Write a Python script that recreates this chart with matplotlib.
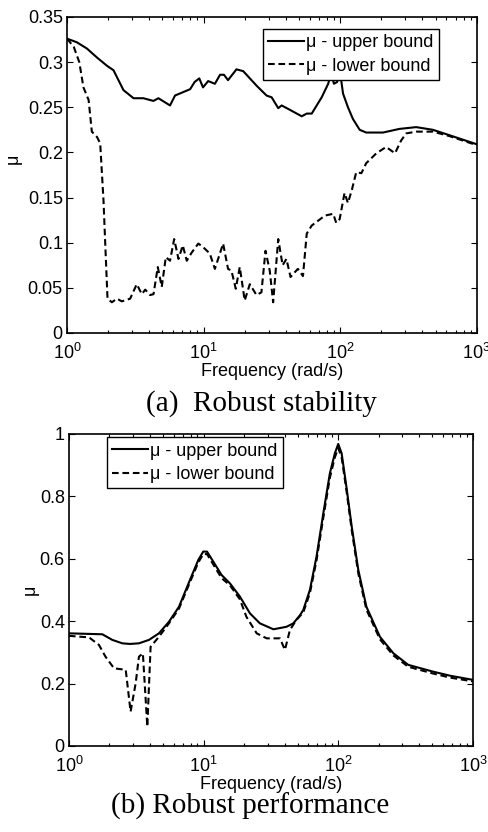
import matplotlib.pyplot as plt
import numpy as np

plt.rcParams['font.family'] = ['Liberation Sans', 'DejaVu Sans']
plt.rcParams['mathtext.fontset'] = 'custom'
plt.rcParams['mathtext.rm'] = 'Liberation Sans'
plt.rcParams['font.size'] = 13

# (a) robust stability
f_rs_up = [1, 1.18, 1.40, 1.66, 1.96, 2.19, 2.59, 3.07, 3.63, 4.29, 4.67, 5.68, 6.18,
           7.97, 8.6, 9.3, 9.9, 10.8, 12.1, 13.2, 14.1, 15.1, 17.4, 19.5, 24.4, 28.9,
           31.5, 35.2, 37.3, 43.0, 52.3, 56.9, 61.9, 73.2, 81.7, 86, 90, 95, 100, 105,
           114, 124, 139, 155, 206, 271, 360, 478, 632, 1000]
mu_rs_up = [0.326, 0.322, 0.315, 0.305, 0.296, 0.291, 0.269, 0.260, 0.260, 0.257, 0.260,
            0.252, 0.263, 0.270, 0.278, 0.282, 0.272, 0.279, 0.276, 0.286, 0.286, 0.280,
            0.292, 0.290, 0.274, 0.263, 0.261, 0.249, 0.252, 0.247, 0.240, 0.243, 0.243,
            0.261, 0.276, 0.288, 0.276, 0.278, 0.288, 0.265, 0.250, 0.237, 0.225, 0.222,
            0.222, 0.226, 0.228, 0.225, 0.219, 0.209]
f_rs_lo = [1, 1.12, 1.23, 1.32, 1.44, 1.52, 1.66, 1.75, 1.85, 1.91, 1.98, 2.13, 2.32,
           2.52, 2.90, 3.24, 3.53, 3.74, 4.06, 4.30, 4.62, 4.94, 5.29, 5.68, 6.09, 6.55,
           7.04, 7.53, 8.18, 9.15, 9.94, 11.1, 12.1, 13.9, 15.1, 16.0, 17.2, 18.4, 20.0,
           21.8, 24.4, 26.5, 28.4, 30.5, 32.3, 35.2, 37.9, 40.4, 43.3, 49.0, 53.4, 56.9,
           61.9, 77.3, 88.9, 93.5, 99.1, 107.6, 114, 122, 131, 143, 155, 184, 217, 252,
           279, 304, 360, 478, 632, 1000]
mu_rs_lo = [0.326, 0.317, 0.300, 0.272, 0.258, 0.223, 0.217, 0.210, 0.147, 0.095, 0.038,
            0.034, 0.038, 0.035, 0.038, 0.054, 0.043, 0.048, 0.042, 0.043, 0.073, 0.051,
            0.084, 0.080, 0.104, 0.082, 0.097, 0.080, 0.089, 0.099, 0.095, 0.088, 0.071,
            0.099, 0.071, 0.069, 0.049, 0.073, 0.036, 0.054, 0.042, 0.045, 0.091, 0.069,
            0.034, 0.104, 0.075, 0.082, 0.062, 0.071, 0.063, 0.110, 0.119, 0.130, 0.132,
            0.122, 0.126, 0.155, 0.144, 0.159, 0.178, 0.177, 0.188, 0.199, 0.206, 0.199,
            0.213, 0.221, 0.223, 0.223, 0.218, 0.208]

# (b) robust performance
f_rp_up = [1, 1.77, 2.10, 2.49, 2.84, 3.31, 3.93, 4.66, 5.53, 6.56, 7.92, 9.13, 9.94,
           10.6, 11.8, 13.6, 15.7, 18.6, 22.1, 26.2, 33, 41.3, 46.4, 52.2, 55, 61.6, 69,
           77.5, 86.7, 94.4, 100, 106, 115, 126, 141, 162, 204, 257, 331, 509, 680, 1000]
mu_rp_up = [0.361, 0.358, 0.340, 0.329, 0.327, 0.329, 0.340, 0.361, 0.398, 0.446, 0.532,
            0.596, 0.623, 0.623, 0.591, 0.548, 0.521, 0.479, 0.425, 0.393, 0.374, 0.382,
            0.393, 0.420, 0.436, 0.500, 0.607, 0.746, 0.874, 0.938, 0.968, 0.938, 0.831,
            0.703, 0.564, 0.446, 0.350, 0.297, 0.260, 0.238, 0.225, 0.212]
f_rp_lo = [1, 1.41, 1.67, 1.87, 2.16, 2.64, 2.87, 3.13, 3.31, 3.54, 3.82, 4.04, 4.66,
           5.53, 6.56, 7.92, 9.13, 9.94, 10.6, 11.8, 13.6, 15.7, 18.6, 20.8, 24.8, 29.4,
           36.9, 40.2, 43.8, 48.9, 55, 61.6, 69, 77.5, 86.7, 94.4, 100, 106, 115, 126,
           141, 162, 204, 257, 331, 509, 680, 1000]
mu_rp_lo = [0.353, 0.348, 0.324, 0.286, 0.249, 0.244, 0.110, 0.201, 0.286, 0.297, 0.062,
            0.318, 0.350, 0.393, 0.440, 0.525, 0.588, 0.615, 0.615, 0.582, 0.538, 0.515,
            0.470, 0.414, 0.361, 0.345, 0.345, 0.308, 0.372, 0.404, 0.428, 0.490, 0.595,
            0.732, 0.860, 0.925, 0.955, 0.925, 0.820, 0.692, 0.553, 0.437, 0.342, 0.290,
            0.254, 0.232, 0.219, 0.207]

dash = (0, (3.2, 1.8))

fig = plt.figure(figsize=(4.89, 8.32), dpi=100)


def style(ax, yt, ytl, ylim, ylab_xy):
    ax.set_xscale('log')
    ax.set_xlim(1, 1000)
    ax.set_ylim(*ylim)
    ax.set_yticks(yt)
    ax.set_yticklabels(ytl)
    ax.tick_params(which='both', direction='in', top=True, right=True, width=0.8)
    ax.tick_params(which='major', length=4, pad=3)
    ax.tick_params(which='minor', length=2)
    ax.tick_params(axis='x', pad=7)
    for s in ax.spines.values():
        s.set_linewidth(1.2)
    ax.set_xlabel('Frequency (rad/s)', labelpad=0)
    ax.set_ylabel('μ')
    ax.yaxis.set_label_coords(*ylab_xy)


ax1 = fig.add_axes([0.137, 0.5998, 0.838, 0.3798])
ax1.plot(f_rs_up, mu_rs_up, 'k-', lw=1.5, label='μ - upper bound')
ax1.plot(f_rs_lo, mu_rs_lo, 'k', ls=dash, lw=1.5, label='μ - lower bound')
style(ax1, [0, 0.05, 0.1, 0.15, 0.2, 0.25, 0.3, 0.35],
      ['0', '0.05', '0.1', '0.15', '0.2', '0.25', '0.3', '0.35'], (0, 0.35), (-0.11, 0.55))
ax1.legend(loc='upper right', bbox_to_anchor=(0.907, 0.962), fancybox=False,
           edgecolor='k', framealpha=1, borderpad=0.3, handlelength=2.0,
           handletextpad=0.1, labelspacing=0.35, borderaxespad=0).get_frame().set_linewidth(1.0)

ax2 = fig.add_axes([0.141, 0.1034, 0.826, 0.375])
ax2.plot(f_rp_up, mu_rp_up, 'k-', lw=1.5, label='μ - upper bound')
ax2.plot(f_rp_lo, mu_rp_lo, 'k', ls=dash, lw=1.5, label='μ - lower bound')
style(ax2, [0, 0.2, 0.4, 0.6, 0.8, 1], ['0', '0.2', '0.4', '0.6', '0.8', '1'], (0, 1),
      (-0.075, 0.5))
ax2.legend(loc='upper left', bbox_to_anchor=(0.094, 0.990), fancybox=False,
           edgecolor='k', framealpha=1, borderpad=0.3, handlelength=2.0,
           handletextpad=0.1, labelspacing=0.35, borderaxespad=0).get_frame().set_linewidth(1.0)

fig.text(261 / 489, 1 - 411 / 832, '(a)  Robust stability', family='Liberation Serif',
         fontsize=21, ha='center', va='baseline')
fig.text(250 / 489, 1 - 814 / 832, '(b) Robust performance', family='Liberation Serif',
         fontsize=21, ha='center', va='baseline')

fig.savefig('out.png', dpi=100)
